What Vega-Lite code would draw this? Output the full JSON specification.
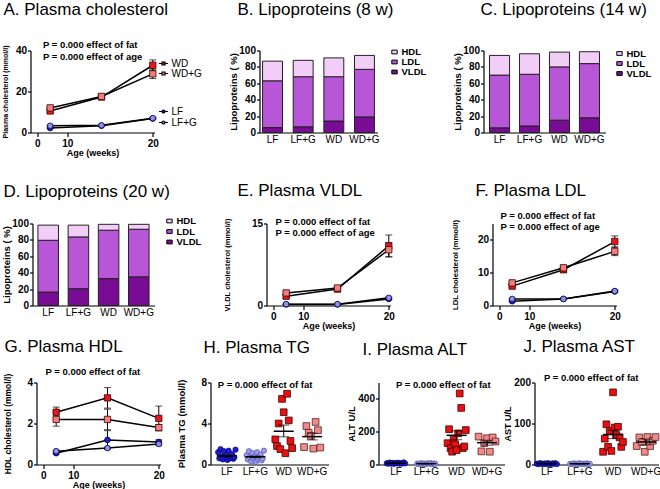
{
  "$schema": "https://vega.github.io/schema/vega-lite/v6.json",
  "background": "white",
  "padding": {"left": 0.5, "top": 0.5, "right": 0, "bottom": 0},
  "config": {
    "font": "Liberation Sans",
    "view": {"stroke": null},
    "title": {"font": "Liberation Sans", "fontSize": 17, "fontWeight": "normal", "anchor": "start", "frame": "group", "color": "black"},
    "axis": {"labelFont": "Liberation Sans", "labelFontSize": 10, "labelColor": "black", "domainColor": "black", "domainWidth": 1.2, "tickColor": "black", "tickWidth": 1.2, "grid": false, "titleFont": "Liberation Sans", "titleFontWeight": "bold", "titleColor": "black", "titleFontSize": 9},
    "axisQuantitative": {"labelFontWeight": "bold"},
    "axisY": {"tickSize": 3, "labelPadding": 1},
    "axisX": {"tickSize": 4, "labelPadding": 1.5, "titlePadding": 0},
    "axisBand": {"ticks": false, "labelPadding": 1.5, "labelAngle": 0},
    "legend": {"labelFont": "Liberation Sans", "labelColor": "black", "padding": 0, "rowPadding": 0, "titlePadding": 0}
  },
  "datasets": {
    "chol": [
      {"w": 8, "g": "WD", "v": 10.5, "lo": 9.7, "hi": 11.3},
      {"w": 14, "g": "WD", "v": 17.3, "lo": 16.5, "hi": 18.1},
      {"w": 20, "g": "WD", "v": 32.8, "lo": 30.2, "hi": 35.4},
      {"w": 8, "g": "WD+G", "v": 12.0, "lo": 11.3, "hi": 12.7},
      {"w": 14, "g": "WD+G", "v": 17.6, "lo": 16.9, "hi": 18.3},
      {"w": 20, "g": "WD+G", "v": 28.6, "lo": 26.3, "hi": 30.9},
      {"w": 8, "g": "LF", "v": 2.2, "lo": 1.9, "hi": 2.5},
      {"w": 14, "g": "LF", "v": 3.3, "lo": 3.0, "hi": 3.6},
      {"w": 20, "g": "LF", "v": 6.8, "lo": 6.4, "hi": 7.2},
      {"w": 8, "g": "LF+G", "v": 3.3, "lo": 3.0, "hi": 3.6},
      {"w": 14, "g": "LF+G", "v": 3.5, "lo": 3.2, "hi": 3.8},
      {"w": 20, "g": "LF+G", "v": 7.0, "lo": 6.6, "hi": 7.4}
    ],
    "vldl": [
      {"w": 8, "g": "WD", "v": 1.7, "lo": 1.4, "hi": 2.0},
      {"w": 14, "g": "WD", "v": 3.0, "lo": 2.7, "hi": 3.3},
      {"w": 20, "g": "WD", "v": 10.9, "lo": 8.9, "hi": 12.9},
      {"w": 8, "g": "WD+G", "v": 2.3, "lo": 2.0, "hi": 2.6},
      {"w": 14, "g": "WD+G", "v": 3.2, "lo": 2.9, "hi": 3.5},
      {"w": 20, "g": "WD+G", "v": 10.2, "lo": 8.9, "hi": 11.5},
      {"w": 8, "g": "LF", "v": 0.2, "lo": 0.15, "hi": 0.25},
      {"w": 14, "g": "LF", "v": 0.2, "lo": 0.15, "hi": 0.25},
      {"w": 20, "g": "LF", "v": 1.2, "lo": 1.05, "hi": 1.35},
      {"w": 8, "g": "LF+G", "v": 0.25, "lo": 0.2, "hi": 0.3},
      {"w": 14, "g": "LF+G", "v": 0.25, "lo": 0.2, "hi": 0.3},
      {"w": 20, "g": "LF+G", "v": 1.4, "lo": 1.25, "hi": 1.55}
    ],
    "ldl": [
      {"w": 8, "g": "WD", "v": 5.9, "lo": 5.4, "hi": 6.4},
      {"w": 14, "g": "WD", "v": 10.9, "lo": 10.1, "hi": 11.7},
      {"w": 20, "g": "WD", "v": 19.5, "lo": 17.8, "hi": 21.2},
      {"w": 8, "g": "WD+G", "v": 6.9, "lo": 6.4, "hi": 7.4},
      {"w": 14, "g": "WD+G", "v": 11.5, "lo": 11.0, "hi": 12.0},
      {"w": 20, "g": "WD+G", "v": 16.5, "lo": 15.2, "hi": 17.8},
      {"w": 8, "g": "LF", "v": 1.3, "lo": 1.1, "hi": 1.5},
      {"w": 14, "g": "LF", "v": 2.0, "lo": 1.8, "hi": 2.2},
      {"w": 20, "g": "LF", "v": 4.3, "lo": 4.0, "hi": 4.6},
      {"w": 8, "g": "LF+G", "v": 2.0, "lo": 1.8, "hi": 2.2},
      {"w": 14, "g": "LF+G", "v": 2.0, "lo": 1.8, "hi": 2.2},
      {"w": 20, "g": "LF+G", "v": 4.4, "lo": 4.1, "hi": 4.7}
    ],
    "hdl": [
      {"w": 8, "g": "WD", "v": 2.55, "lo": 2.3, "hi": 2.8},
      {"w": 14, "g": "WD", "v": 3.25, "lo": 2.75, "hi": 3.75},
      {"w": 20, "g": "WD", "v": 2.25, "lo": 1.65, "hi": 2.85},
      {"w": 8, "g": "WD+G", "v": 2.2, "lo": 1.87, "hi": 2.53},
      {"w": 14, "g": "WD+G", "v": 2.2, "lo": 1.7, "hi": 2.7},
      {"w": 20, "g": "WD+G", "v": 1.8, "lo": 1.65, "hi": 1.95},
      {"w": 8, "g": "LF", "v": 0.55, "lo": 0.5, "hi": 0.6},
      {"w": 14, "g": "LF", "v": 1.2, "lo": 0.75, "hi": 1.65},
      {"w": 20, "g": "LF", "v": 1.1, "lo": 1.0, "hi": 1.2},
      {"w": 8, "g": "LF+G", "v": 0.65, "lo": 0.6, "hi": 0.7},
      {"w": 14, "g": "LF+G", "v": 0.8, "lo": 0.75, "hi": 0.85},
      {"w": 20, "g": "LF+G", "v": 1.0, "lo": 0.92, "hi": 1.08}
    ],
    "lipo": [
      {"age": "8 w", "diet": "LF", "lp": "VLDL", "pct": 6},
      {"age": "8 w", "diet": "LF", "lp": "LDL", "pct": 57},
      {"age": "8 w", "diet": "LF", "lp": "HDL", "pct": 24},
      {"age": "8 w", "diet": "LF+G", "lp": "VLDL", "pct": 7},
      {"age": "8 w", "diet": "LF+G", "lp": "LDL", "pct": 61},
      {"age": "8 w", "diet": "LF+G", "lp": "HDL", "pct": 20},
      {"age": "8 w", "diet": "WD", "lp": "VLDL", "pct": 14},
      {"age": "8 w", "diet": "WD", "lp": "LDL", "pct": 54},
      {"age": "8 w", "diet": "WD", "lp": "HDL", "pct": 23},
      {"age": "8 w", "diet": "WD+G", "lp": "VLDL", "pct": 19},
      {"age": "8 w", "diet": "WD+G", "lp": "LDL", "pct": 58},
      {"age": "8 w", "diet": "WD+G", "lp": "HDL", "pct": 17},
      {"age": "14 w", "diet": "LF", "lp": "VLDL", "pct": 5.7},
      {"age": "14 w", "diet": "LF", "lp": "LDL", "pct": 64.3},
      {"age": "14 w", "diet": "LF", "lp": "HDL", "pct": 24},
      {"age": "14 w", "diet": "LF+G", "lp": "VLDL", "pct": 8},
      {"age": "14 w", "diet": "LF+G", "lp": "LDL", "pct": 63},
      {"age": "14 w", "diet": "LF+G", "lp": "HDL", "pct": 25},
      {"age": "14 w", "diet": "WD", "lp": "VLDL", "pct": 15},
      {"age": "14 w", "diet": "WD", "lp": "LDL", "pct": 65},
      {"age": "14 w", "diet": "WD", "lp": "HDL", "pct": 18},
      {"age": "14 w", "diet": "WD+G", "lp": "VLDL", "pct": 18},
      {"age": "14 w", "diet": "WD+G", "lp": "LDL", "pct": 66},
      {"age": "14 w", "diet": "WD+G", "lp": "HDL", "pct": 14.5},
      {"age": "20 w", "diet": "LF", "lp": "VLDL", "pct": 16.4},
      {"age": "20 w", "diet": "LF", "lp": "LDL", "pct": 63.1},
      {"age": "20 w", "diet": "LF", "lp": "HDL", "pct": 18.5},
      {"age": "20 w", "diet": "LF+G", "lp": "VLDL", "pct": 20.5},
      {"age": "20 w", "diet": "LF+G", "lp": "LDL", "pct": 63.1},
      {"age": "20 w", "diet": "LF+G", "lp": "HDL", "pct": 14.4},
      {"age": "20 w", "diet": "WD", "lp": "VLDL", "pct": 32.8},
      {"age": "20 w", "diet": "WD", "lp": "LDL", "pct": 59},
      {"age": "20 w", "diet": "WD", "lp": "HDL", "pct": 7.2},
      {"age": "20 w", "diet": "WD+G", "lp": "VLDL", "pct": 35},
      {"age": "20 w", "diet": "WD+G", "lp": "LDL", "pct": 58},
      {"age": "20 w", "diet": "WD+G", "lp": "HDL", "pct": 6}
    ],
    "tg": [
      {"g": "LF", "i": 1, "v": 1.2}, {"g": "LF", "i": 2, "v": 0.6}, {"g": "LF", "i": 3, "v": 1.5}, {"g": "LF", "i": 4, "v": 0.8},
      {"g": "LF", "i": 5, "v": 0.5}, {"g": "LF", "i": 6, "v": 1.3}, {"g": "LF", "i": 7, "v": 0.7}, {"g": "LF", "i": 8, "v": 0.9},
      {"g": "LF", "i": 9, "v": 0.45}, {"g": "LF", "i": 10, "v": 1.35}, {"g": "LF", "i": 11, "v": 0.6}, {"g": "LF", "i": 12, "v": 0.75},
      {"g": "LF", "i": 13, "v": 1.0}, {"g": "LF", "i": 14, "v": 0.55}, {"g": "LF", "i": 15, "v": 0.7}, {"g": "LF", "i": 16, "v": 1.45},
      {"g": "LF+G", "i": 1, "v": 0.9}, {"g": "LF+G", "i": 2, "v": 0.5}, {"g": "LF+G", "i": 3, "v": 1.3}, {"g": "LF+G", "i": 4, "v": 0.7},
      {"g": "LF+G", "i": 5, "v": 0.3}, {"g": "LF+G", "i": 6, "v": 1.1}, {"g": "LF+G", "i": 7, "v": 0.6}, {"g": "LF+G", "i": 8, "v": 0.8},
      {"g": "LF+G", "i": 9, "v": 0.25}, {"g": "LF+G", "i": 10, "v": 1.2}, {"g": "LF+G", "i": 11, "v": 0.5}, {"g": "LF+G", "i": 12, "v": 0.7},
      {"g": "LF+G", "i": 13, "v": 0.95}, {"g": "LF+G", "i": 14, "v": 0.4}, {"g": "LF+G", "i": 15, "v": 0.6}, {"g": "LF+G", "i": 16, "v": 1.35},
      {"g": "WD", "i": 1, "v": 2.45}, {"g": "WD", "i": 2, "v": 1.8}, {"g": "WD", "i": 3, "v": 4.0}, {"g": "WD", "i": 4, "v": 1.5},
      {"g": "WD", "i": 5, "v": 6.4}, {"g": "WD", "i": 6, "v": 5.1}, {"g": "WD", "i": 7, "v": 1.1}, {"g": "WD", "i": 8, "v": 6.9},
      {"g": "WD", "i": 9, "v": 4.3}, {"g": "WD", "i": 10, "v": 2.3}, {"g": "WD", "i": 11, "v": 1.6},
      {"g": "WD+G", "i": 1, "v": 1.7}, {"g": "WD+G", "i": 2, "v": 3.75}, {"g": "WD+G", "i": 3, "v": 3.1}, {"g": "WD+G", "i": 4, "v": 2.8},
      {"g": "WD+G", "i": 5, "v": 1.55}, {"g": "WD+G", "i": 6, "v": 4.15}, {"g": "WD+G", "i": 7, "v": 3.35}, {"g": "WD+G", "i": 8, "v": 1.65}
    ],
    "tgs": [
      {"g": "LF", "m": 0.85, "lo": 0.78, "hi": 0.92},
      {"g": "LF+G", "m": 0.75, "lo": 0.68, "hi": 0.82},
      {"g": "WD", "m": 3.25, "lo": 2.7, "hi": 3.85},
      {"g": "WD+G", "m": 2.72, "lo": 2.4, "hi": 3.05}
    ],
    "alt": [
      {"g": "LF", "i": 1, "v": 8}, {"g": "LF", "i": 2, "v": 5}, {"g": "LF", "i": 3, "v": 12}, {"g": "LF", "i": 4, "v": 6},
      {"g": "LF", "i": 5, "v": 10}, {"g": "LF", "i": 6, "v": 4}, {"g": "LF", "i": 7, "v": 9}, {"g": "LF", "i": 8, "v": 7},
      {"g": "LF", "i": 9, "v": 11}, {"g": "LF", "i": 10, "v": 5}, {"g": "LF", "i": 11, "v": 8}, {"g": "LF", "i": 12, "v": 6},
      {"g": "LF", "i": 13, "v": 13}, {"g": "LF", "i": 14, "v": 7},
      {"g": "LF+G", "i": 1, "v": 5}, {"g": "LF+G", "i": 2, "v": 3}, {"g": "LF+G", "i": 3, "v": 8}, {"g": "LF+G", "i": 4, "v": 4},
      {"g": "LF+G", "i": 5, "v": 6}, {"g": "LF+G", "i": 6, "v": 2}, {"g": "LF+G", "i": 7, "v": 7}, {"g": "LF+G", "i": 8, "v": 5},
      {"g": "LF+G", "i": 9, "v": 9}, {"g": "LF+G", "i": 10, "v": 3}, {"g": "LF+G", "i": 11, "v": 6}, {"g": "LF+G", "i": 12, "v": 4},
      {"g": "WD", "i": 1, "v": 130}, {"g": "WD", "i": 2, "v": 215}, {"g": "WD", "i": 3, "v": 99}, {"g": "WD", "i": 4, "v": 78},
      {"g": "WD", "i": 5, "v": 155}, {"g": "WD", "i": 6, "v": 123}, {"g": "WD", "i": 7, "v": 88}, {"g": "WD", "i": 8, "v": 190},
      {"g": "WD", "i": 9, "v": 433}, {"g": "WD", "i": 10, "v": 345}, {"g": "WD", "i": 11, "v": 100}, {"g": "WD", "i": 12, "v": 110},
      {"g": "WD", "i": 13, "v": 210},
      {"g": "WD+G", "i": 1, "v": 170}, {"g": "WD+G", "i": 2, "v": 80}, {"g": "WD+G", "i": 3, "v": 130}, {"g": "WD+G", "i": 4, "v": 160},
      {"g": "WD+G", "i": 5, "v": 78}, {"g": "WD+G", "i": 6, "v": 165}, {"g": "WD+G", "i": 7, "v": 140}
    ],
    "alts": [
      {"g": "LF", "m": 8, "lo": 7, "hi": 9},
      {"g": "LF+G", "m": 5, "lo": 4.3, "hi": 5.7},
      {"g": "WD", "m": 178, "lo": 151, "hi": 205},
      {"g": "WD+G", "m": 133, "lo": 118, "hi": 148}
    ],
    "ast": [
      {"g": "LF", "i": 1, "v": 2}, {"g": "LF", "i": 2, "v": 1}, {"g": "LF", "i": 3, "v": 3}, {"g": "LF", "i": 4, "v": 2},
      {"g": "LF", "i": 5, "v": 1.5}, {"g": "LF", "i": 6, "v": 2.5}, {"g": "LF", "i": 7, "v": 1}, {"g": "LF", "i": 8, "v": 3},
      {"g": "LF", "i": 9, "v": 2}, {"g": "LF", "i": 10, "v": 1.5}, {"g": "LF", "i": 11, "v": 2.5}, {"g": "LF", "i": 12, "v": 2},
      {"g": "LF", "i": 13, "v": 3}, {"g": "LF", "i": 14, "v": 1},
      {"g": "LF+G", "i": 1, "v": 1.5}, {"g": "LF+G", "i": 2, "v": 1}, {"g": "LF+G", "i": 3, "v": 2.5}, {"g": "LF+G", "i": 4, "v": 2},
      {"g": "LF+G", "i": 5, "v": 1}, {"g": "LF+G", "i": 6, "v": 3}, {"g": "LF+G", "i": 7, "v": 1.5}, {"g": "LF+G", "i": 8, "v": 2},
      {"g": "LF+G", "i": 9, "v": 1}, {"g": "LF+G", "i": 10, "v": 2.5}, {"g": "LF+G", "i": 11, "v": 2}, {"g": "LF+G", "i": 12, "v": 1.5},
      {"g": "WD", "i": 1, "v": 31}, {"g": "WD", "i": 2, "v": 63}, {"g": "WD", "i": 3, "v": 98}, {"g": "WD", "i": 4, "v": 43},
      {"g": "WD", "i": 5, "v": 82}, {"g": "WD", "i": 6, "v": 33}, {"g": "WD", "i": 7, "v": 176}, {"g": "WD", "i": 8, "v": 90},
      {"g": "WD", "i": 9, "v": 72}, {"g": "WD", "i": 10, "v": 92}, {"g": "WD", "i": 11, "v": 66}, {"g": "WD", "i": 12, "v": 43},
      {"g": "WD", "i": 13, "v": 55},
      {"g": "WD+G", "i": 1, "v": 45}, {"g": "WD+G", "i": 2, "v": 66}, {"g": "WD+G", "i": 3, "v": 55}, {"g": "WD+G", "i": 4, "v": 31},
      {"g": "WD+G", "i": 5, "v": 67}, {"g": "WD+G", "i": 6, "v": 45}, {"g": "WD+G", "i": 7, "v": 58}, {"g": "WD+G", "i": 8, "v": 67}
    ],
    "asts": [
      {"g": "LF", "m": 2, "lo": 1.7, "hi": 2.3},
      {"g": "LF+G", "m": 1.8, "lo": 1.5, "hi": 2.1},
      {"g": "WD", "m": 73, "lo": 63, "hi": 84},
      {"g": "WD+G", "m": 55, "lo": 48, "hi": 62}
    ],
    "notes": [
      {"panel": "A", "note": "P = 0.000 effect of fat\nP = 0.000 effect of age"},
      {"panel": "E", "note": "P = 0.000 effect of fat\nP = 0.000 effect of age"},
      {"panel": "F", "note": "P = 0.000 effect of fat\nP = 0.000 effect of age"},
      {"panel": "G", "note": "P = 0.000 effect of fat"},
      {"panel": "H", "note": "P = 0.000 effect of fat"},
      {"panel": "I", "note": "P = 0.000 effect of fat"},
      {"panel": "J", "note": "P = 0.000 effect of fat"}
    ]
  },
  "spacing": 7,
  "resolve": {"scale": {"color": "independent", "fill": "independent", "xOffset": "independent"}, "legend": {"color": "independent", "fill": "independent"}},
  "vconcat": [
    {
      "spacing": 24,
      "resolve": {"scale": {"color": "independent", "fill": "independent", "xOffset": "independent"}, "legend": {"color": "independent", "fill": "independent"}},
      "vconcat": [
        {
          "spacing": 0,
          "bounds": "flush",
          "resolve": {"scale": {"color": "independent", "fill": "independent", "xOffset": "independent"}, "legend": {"color": "independent", "fill": "independent"}},
          "hconcat": [
            {
              "width": 124, "height": 82,
              "title": {"text": "A. Plasma cholesterol", "dx": -27, "offset": 21.5},
              "layer": [
                {"data": {"name": "chol"}, "mark": {"type": "line", "color": "black", "strokeWidth": 1.5}, "encoding": {"x": {"field": "w", "type": "quantitative", "scale": {"domain": [5.7, 20.2], "nice": false, "zero": false}, "axis": {"values": [6.5, 7.4, 10, 15, 20], "labelExpr": "datum.value < 7 ? '0' : (datum.value < 8 ? '5' : datum.label)", "labelOverlap": false, "labelFlush": false, "title": "Age (weeks)"}}, "y": {"field": "v", "type": "quantitative", "scale": {"domain": [0, 40], "nice": false}, "axis": {"values": [0, 10, 20, 30, 40], "title": "Plasma cholesterol (mmol/l)", "titleFontSize": 7, "titlePadding": 6.4}}, "detail": {"field": "g"}}},
                {"data": {"name": "chol"}, "mark": {"type": "errorbar", "color": "black", "ticks": {"size": 7}}, "encoding": {"x": {"field": "w", "type": "quantitative", "title": "Age (weeks)"}, "y": {"field": "lo", "type": "quantitative", "title": "Plasma cholesterol (mmol/l)"}, "y2": {"field": "hi"}, "detail": {"field": "g"}}},
                {"data": {"name": "chol"}, "transform": [{"filter": {"field": "g", "oneOf": ["WD", "WD+G"]}}], "mark": {"type": "point", "shape": "square", "filled": true, "size": 40, "opacity": 1, "stroke": "#3a0000", "strokeWidth": 0.8}, "encoding": {"x": {"field": "w", "type": "quantitative", "title": "Age (weeks)"}, "y": {"field": "v", "type": "quantitative", "title": "Plasma cholesterol (mmol/l)"}, "fill": {"field": "g", "type": "nominal", "scale": {"domain": ["WD", "WD+G"], "range": ["#e8161b", "#f27f7f"]}, "legend": {"title": null, "orient": "none", "legendX": 128, "legendY": 8, "symbolType": "M-1.5,0H-0.5M0.5,0H1.5M-0.5,-0.5H0.5V0.5H-0.5Z", "symbolSize": 36, "symbolStrokeColor": "black", "symbolStrokeWidth": 1.2, "labelFontSize": 10, "labelOffset": 3, "rowPadding": 0, "encode": {"symbols": {"update": {"stroke": {"value": "black"}, "strokeWidth": {"value": 1.2}}}}}}}},
                {"data": {"name": "chol"}, "transform": [{"filter": {"field": "g", "oneOf": ["LF", "LF+G"]}}], "mark": {"type": "point", "shape": "circle", "filled": true, "size": 32, "opacity": 1, "stroke": "#000044", "strokeWidth": 0.8}, "encoding": {"x": {"field": "w", "type": "quantitative", "title": "Age (weeks)"}, "y": {"field": "v", "type": "quantitative", "title": "Plasma cholesterol (mmol/l)"}, "color": {"field": "g", "type": "nominal", "scale": {"domain": ["LF", "LF+G"], "range": ["#2020cc", "#9090e8"]}, "legend": {"title": null, "orient": "none", "legendX": 128, "legendY": 56, "symbolType": "M-1.5,0H-0.5A0.5,0.5 0 1,0 0.5,0A0.5,0.5 0 1,0 -0.5,0M0.5,0H1.5", "symbolSize": 36, "symbolStrokeColor": "black", "symbolStrokeWidth": 1.2, "labelFontSize": 10, "labelOffset": 3, "rowPadding": 1, "encode": {"symbols": {"update": {"stroke": {"value": "black"}, "strokeWidth": {"value": 1.2}}}}}}}},
                {"data": {"name": "notes"}, "transform": [{"filter": "datum.panel == 'A'"}], "mark": {"type": "text", "align": "left", "baseline": "top", "fontSize": 9.5, "fontWeight": "bold", "lineHeight": 11.3, "lineBreak": "\n", "color": "black"}, "encoding": {"x": {"datum": 7.15}, "y": {"datum": 45}, "text": {"field": "note"}}}
              ]
            },
            {"width": 105, "height": 82, "data": {"values": []}, "mark": "point"},
            {
              "width": 118, "height": 82,
              "title": {"text": "B. Lipoproteins (8 w)", "dx": -22, "offset": 26.5},
              "data": {"name": "lipo"},
              "transform": [{"filter": "datum.age == '8 w'"}],
              "mark": {"type": "bar", "stroke": "#222222", "strokeWidth": 1},
              "encoding": {
                "x": {"field": "diet", "type": "nominal", "scale": {"domain": ["LF", "LF+G", "WD", "WD+G"], "paddingInner": 0.35, "paddingOuter": 0.1}, "axis": {"title": null}},
                "y": {"field": "pct", "type": "quantitative", "stack": "zero", "scale": {"domain": [0, 100], "nice": false}, "axis": {"values": [0, 20, 40, 60, 80, 100], "title": "Lipoproteins ( %)", "titleFontSize": 9.5, "titlePadding": 0.5}},
                "color": {"field": "lp", "type": "nominal", "scale": {"domain": ["HDL", "LDL", "VLDL"], "range": ["#f2cdf7", "#b757d8", "#780c94"]}, "legend": {"title": null, "orient": "none", "legendX": 130, "legendY": -3.5, "symbolType": "M-0.6,-0.42H0.6V0.42H-0.6Z", "symbolSize": 81, "symbolStrokeColor": "black", "symbolStrokeWidth": 1, "labelFontSize": 9.5, "labelFontWeight": "bold", "labelOffset": 2, "rowPadding": 0, "encode": {"symbols": {"update": {"stroke": {"value": "black"}, "strokeWidth": {"value": 1}}}}}},
                "order": {"field": "lp", "sort": "descending"}
              }
            },
            {"width": 106, "height": 82, "data": {"values": []}, "mark": "point"},
            {
              "width": 122, "height": 82,
              "title": {"text": "C. Lipoproteins (14 w)", "dx": -3, "offset": 26.5},
              "data": {"name": "lipo"},
              "transform": [{"filter": "datum.age == '14 w'"}],
              "mark": {"type": "bar", "stroke": "#222222", "strokeWidth": 1},
              "encoding": {
                "x": {"field": "diet", "type": "nominal", "scale": {"domain": ["LF", "LF+G", "WD", "WD+G"], "paddingInner": 0.33, "paddingOuter": 0.2}, "axis": {"title": null}},
                "y": {"field": "pct", "type": "quantitative", "stack": "zero", "scale": {"domain": [0, 100], "nice": false}, "axis": {"values": [0, 20, 40, 60, 80, 100], "title": "Lipoproteins ( %)", "titleFontSize": 9.5, "titlePadding": 0.5}},
                "color": {"field": "lp", "type": "nominal", "scale": {"domain": ["HDL", "LDL", "VLDL"], "range": ["#f2cdf7", "#b757d8", "#780c94"]}, "legend": {"title": null, "orient": "none", "legendX": 131, "legendY": -2, "symbolType": "M-0.6,-0.42H0.6V0.42H-0.6Z", "symbolSize": 81, "symbolStrokeColor": "black", "symbolStrokeWidth": 1, "labelFontSize": 9.5, "labelFontWeight": "bold", "labelOffset": 2, "rowPadding": 0, "encode": {"symbols": {"update": {"stroke": {"value": "black"}, "strokeWidth": {"value": 1}}}}}},
                "order": {"field": "lp", "sort": "descending"}
              }
            }
          ]
        },
        {
          "spacing": 0,
          "bounds": "flush",
          "resolve": {"scale": {"color": "independent", "fill": "independent", "xOffset": "independent"}, "legend": {"color": "independent", "fill": "independent"}},
          "hconcat": [
            {"width": 2, "height": 82, "data": {"values": []}, "mark": "point"},
            {
              "width": 122, "height": 82,
              "title": {"text": "D. Lipoproteins (20 w)", "dx": -29, "offset": 15},
              "data": {"name": "lipo"},
              "transform": [{"filter": "datum.age == '20 w'"}],
              "mark": {"type": "bar", "stroke": "#222222", "strokeWidth": 1},
              "encoding": {
                "x": {"field": "diet", "type": "nominal", "scale": {"domain": ["LF", "LF+G", "WD", "WD+G"], "paddingInner": 0.32, "paddingOuter": 0.18}, "axis": {"title": null}},
                "y": {"field": "pct", "type": "quantitative", "stack": "zero", "scale": {"domain": [0, 100], "nice": false}, "axis": {"values": [0, 20, 40, 60, 80, 100], "title": "Lipoproteins ( %)", "titleFontSize": 9.5, "titlePadding": 0.5}},
                "color": {"field": "lp", "type": "nominal", "scale": {"domain": ["HDL", "LDL", "VLDL"], "range": ["#f2cdf7", "#b757d8", "#780c94"]}, "legend": {"title": null, "orient": "none", "legendX": 132, "legendY": -7.5, "symbolType": "M-0.6,-0.42H0.6V0.42H-0.6Z", "symbolSize": 81, "symbolStrokeColor": "black", "symbolStrokeWidth": 1, "labelFontSize": 9.5, "labelFontWeight": "bold", "labelOffset": 2, "rowPadding": 0.5, "encode": {"symbols": {"update": {"stroke": {"value": "black"}, "strokeWidth": {"value": 1}}}}}},
                "order": {"field": "lp", "sort": "descending"}
              }
            },
            {"width": 112, "height": 82, "data": {"values": []}, "mark": "point"},
            {
              "width": 124, "height": 82,
              "title": {"text": "E. Plasma VLDL", "dx": -29, "offset": 17},
              "layer": [
                {"data": {"name": "vldl"}, "mark": {"type": "line", "color": "black", "strokeWidth": 1.5}, "encoding": {"x": {"field": "w", "type": "quantitative", "scale": {"domain": [5.7, 20.2], "nice": false, "zero": false}, "axis": {"values": [6.5, 7.4, 10, 15, 20], "labelExpr": "datum.value < 7 ? '0' : (datum.value < 8 ? '5' : datum.label)", "labelOverlap": false, "labelFlush": false, "title": "Age (weeks)"}}, "y": {"field": "v", "type": "quantitative", "scale": {"domain": [0, 15], "nice": false}, "axis": {"values": [0, 5, 10, 15], "title": "VLDL cholesterol (mmol/l)", "titleFontSize": 7.5, "titlePadding": 20}}, "detail": {"field": "g"}}},
                {"data": {"name": "vldl"}, "mark": {"type": "errorbar", "color": "black", "ticks": {"size": 7}}, "encoding": {"x": {"field": "w", "type": "quantitative", "title": "Age (weeks)"}, "y": {"field": "lo", "type": "quantitative", "title": "VLDL cholesterol (mmol/l)"}, "y2": {"field": "hi"}, "detail": {"field": "g"}}},
                {"data": {"name": "vldl"}, "transform": [{"filter": {"field": "g", "oneOf": ["WD", "WD+G"]}}], "mark": {"type": "point", "shape": "square", "filled": true, "size": 40, "opacity": 1, "stroke": "#3a0000", "strokeWidth": 0.8}, "encoding": {"x": {"field": "w", "type": "quantitative", "title": "Age (weeks)"}, "y": {"field": "v", "type": "quantitative", "title": "VLDL cholesterol (mmol/l)"}, "fill": {"field": "g", "type": "nominal", "scale": {"domain": ["WD", "WD+G"], "range": ["#e8161b", "#f27f7f"]}, "legend": null}}},
                {"data": {"name": "vldl"}, "transform": [{"filter": {"field": "g", "oneOf": ["LF", "LF+G"]}}], "mark": {"type": "point", "shape": "circle", "filled": true, "size": 32, "opacity": 1, "stroke": "#000044", "strokeWidth": 0.8}, "encoding": {"x": {"field": "w", "type": "quantitative", "title": "Age (weeks)"}, "y": {"field": "v", "type": "quantitative", "title": "VLDL cholesterol (mmol/l)"}, "color": {"field": "g", "type": "nominal", "scale": {"domain": ["LF", "LF+G"], "range": ["#2020cc", "#9090e8"]}, "legend": null}}},
                {"data": {"name": "notes"}, "transform": [{"filter": "datum.panel == 'E'"}], "mark": {"type": "text", "align": "left", "baseline": "top", "fontSize": 9.5, "fontWeight": "bold", "lineHeight": 11.3, "lineBreak": "\n", "color": "black"}, "encoding": {"x": {"datum": 6.75}, "y": {"datum": 16.26}, "text": {"field": "note"}}}
              ]
            },
            {"width": 102, "height": 82, "data": {"values": []}, "mark": "point"},
            {
              "width": 124, "height": 82,
              "title": {"text": "F. Plasma LDL", "dx": -17, "offset": 11},
              "layer": [
                {"data": {"name": "ldl"}, "mark": {"type": "line", "color": "black", "strokeWidth": 1.5}, "encoding": {"x": {"field": "w", "type": "quantitative", "scale": {"domain": [5.7, 20.2], "nice": false, "zero": false}, "axis": {"values": [6.5, 7.4, 10, 15, 20], "labelExpr": "datum.value < 7 ? '0' : (datum.value < 8 ? '5' : datum.label)", "labelOverlap": false, "labelFlush": false, "title": "Age (weeks)"}}, "y": {"field": "v", "type": "quantitative", "scale": {"domain": [0, 25], "nice": false}, "axis": {"values": [0, 5, 10, 15, 20, 25], "title": "LDL cholesterol (mmol/l)", "titleFontSize": 7.7, "titlePadding": 18}}, "detail": {"field": "g"}}},
                {"data": {"name": "ldl"}, "mark": {"type": "errorbar", "color": "black", "ticks": {"size": 7}}, "encoding": {"x": {"field": "w", "type": "quantitative", "title": "Age (weeks)"}, "y": {"field": "lo", "type": "quantitative", "title": "LDL cholesterol (mmol/l)"}, "y2": {"field": "hi"}, "detail": {"field": "g"}}},
                {"data": {"name": "ldl"}, "transform": [{"filter": {"field": "g", "oneOf": ["WD", "WD+G"]}}], "mark": {"type": "point", "shape": "square", "filled": true, "size": 40, "opacity": 1, "stroke": "#3a0000", "strokeWidth": 0.8}, "encoding": {"x": {"field": "w", "type": "quantitative", "title": "Age (weeks)"}, "y": {"field": "v", "type": "quantitative", "title": "LDL cholesterol (mmol/l)"}, "fill": {"field": "g", "type": "nominal", "scale": {"domain": ["WD", "WD+G"], "range": ["#e8161b", "#f27f7f"]}, "legend": null}}},
                {"data": {"name": "ldl"}, "transform": [{"filter": {"field": "g", "oneOf": ["LF", "LF+G"]}}], "mark": {"type": "point", "shape": "circle", "filled": true, "size": 32, "opacity": 1, "stroke": "#000044", "strokeWidth": 0.8}, "encoding": {"x": {"field": "w", "type": "quantitative", "title": "Age (weeks)"}, "y": {"field": "v", "type": "quantitative", "title": "LDL cholesterol (mmol/l)"}, "color": {"field": "g", "type": "nominal", "scale": {"domain": ["LF", "LF+G"], "range": ["#2020cc", "#9090e8"]}, "legend": null}}},
                {"data": {"name": "notes"}, "transform": [{"filter": "datum.panel == 'F'"}], "mark": {"type": "text", "align": "left", "baseline": "top", "fontSize": 9.5, "fontWeight": "bold", "lineHeight": 11.3, "lineBreak": "\n", "color": "black"}, "encoding": {"x": {"datum": 6.63}, "y": {"datum": 28.8}, "text": {"field": "note"}}}
              ]
            }
          ]
        }
      ]
    },
    {
      "spacing": 0,
      "bounds": "flush",
      "resolve": {"scale": {"color": "independent", "fill": "independent", "xOffset": "independent"}, "legend": {"color": "independent", "fill": "independent"}},
      "hconcat": [
        {"width": 6, "height": 82, "data": {"values": []}, "mark": "point"},
        {
          "width": 124, "height": 82,
          "title": {"text": "G. Plasma HDL", "dx": -32, "offset": 11},
          "layer": [
            {"data": {"name": "hdl"}, "mark": {"type": "line", "color": "black", "strokeWidth": 1.5}, "encoding": {"x": {"field": "w", "type": "quantitative", "scale": {"domain": [5.7, 20.2], "nice": false, "zero": false}, "axis": {"values": [6.5, 7.4, 10, 15, 20], "labelExpr": "datum.value < 7 ? '0' : (datum.value < 8 ? '5' : datum.label)", "labelOverlap": false, "labelFlush": false, "title": "Age (weeks)"}}, "y": {"field": "v", "type": "quantitative", "scale": {"domain": [0, 4], "nice": false}, "axis": {"values": [0, 1, 2, 3, 4], "title": "HDL cholesterol (mmol/l)", "titleFontSize": 8.5, "titlePadding": 14.8}}, "detail": {"field": "g"}}},
            {"data": {"name": "hdl"}, "mark": {"type": "errorbar", "color": "black", "ticks": {"size": 7}}, "encoding": {"x": {"field": "w", "type": "quantitative", "title": "Age (weeks)"}, "y": {"field": "lo", "type": "quantitative", "title": "HDL cholesterol (mmol/l)"}, "y2": {"field": "hi"}, "detail": {"field": "g"}}},
            {"data": {"name": "hdl"}, "transform": [{"filter": {"field": "g", "oneOf": ["WD", "WD+G"]}}], "mark": {"type": "point", "shape": "square", "filled": true, "size": 40, "opacity": 1, "stroke": "#3a0000", "strokeWidth": 0.8}, "encoding": {"x": {"field": "w", "type": "quantitative", "title": "Age (weeks)"}, "y": {"field": "v", "type": "quantitative", "title": "HDL cholesterol (mmol/l)"}, "fill": {"field": "g", "type": "nominal", "scale": {"domain": ["WD", "WD+G"], "range": ["#e8161b", "#f27f7f"]}, "legend": null}}},
            {"data": {"name": "hdl"}, "transform": [{"filter": {"field": "g", "oneOf": ["LF", "LF+G"]}}], "mark": {"type": "point", "shape": "circle", "filled": true, "size": 32, "opacity": 1, "stroke": "#000044", "strokeWidth": 0.8}, "encoding": {"x": {"field": "w", "type": "quantitative", "title": "Age (weeks)"}, "y": {"field": "v", "type": "quantitative", "title": "HDL cholesterol (mmol/l)"}, "color": {"field": "g", "type": "nominal", "scale": {"domain": ["LF", "LF+G"], "range": ["#2020cc", "#9090e8"]}, "legend": null}}},
            {"data": {"name": "notes"}, "transform": [{"filter": "datum.panel == 'G'"}], "mark": {"type": "text", "align": "left", "baseline": "top", "fontSize": 9.5, "fontWeight": "bold", "color": "black"}, "encoding": {"x": {"datum": 6.75}, "y": {"datum": 4.74}, "text": {"field": "note"}}}
          ]
        },
        {"width": 50, "height": 82, "data": {"values": []}, "mark": "point"},
        {
          "width": 118, "height": 82,
          "title": {"text": "H. Plasma TG", "dx": -7, "offset": 21},
          "encoding": {"x": {"field": "g", "type": "nominal", "scale": {"type": "band", "domain": ["LF", "LF+G", "WD", "WD+G"], "paddingInner": 0.35, "paddingOuter": 0.25}, "axis": {"title": null}}},
          "layer": [
            {"data": {"name": "tg"}, "transform": [{"filter": "datum.g == 'LF'"}], "mark": {"type": "point", "shape": "circle", "filled": true, "size": 28, "opacity": 1, "fill": "#1f1fd0", "stroke": "#00006e", "strokeWidth": 0.7}, "encoding": {"y": {"field": "v", "type": "quantitative", "scale": {"domain": [0, 8], "nice": false}, "axis": {"values": [0, 2, 4, 6, 8], "title": "Plasma TG (mmol/l)", "titleFontSize": 9.5, "titlePadding": 14}}, "xOffset": {"field": "i", "type": "ordinal"}}},
            {"data": {"name": "tg"}, "transform": [{"filter": "datum.g == 'LF+G'"}], "mark": {"type": "point", "shape": "circle", "filled": true, "size": 28, "opacity": 1, "fill": "#9a9af0", "stroke": "#5050a8", "strokeWidth": 0.7}, "encoding": {"y": {"field": "v", "type": "quantitative", "title": "Plasma TG (mmol/l)"}, "xOffset": {"field": "i", "type": "ordinal"}}},
            {"data": {"name": "tg"}, "transform": [{"filter": "datum.g == 'WD'"}], "mark": {"type": "point", "shape": "square", "filled": true, "size": 45, "opacity": 1, "fill": "#e81010", "stroke": "#440000", "strokeWidth": 0.8}, "encoding": {"y": {"field": "v", "type": "quantitative", "title": "Plasma TG (mmol/l)"}, "xOffset": {"field": "i", "type": "ordinal"}}},
            {"data": {"name": "tg"}, "transform": [{"filter": "datum.g == 'WD+G'"}], "mark": {"type": "point", "shape": "square", "filled": true, "size": 45, "opacity": 1, "fill": "#f08a8a", "stroke": "#5a2020", "strokeWidth": 0.8}, "encoding": {"y": {"field": "v", "type": "quantitative", "title": "Plasma TG (mmol/l)"}, "xOffset": {"field": "i", "type": "ordinal"}}},
            {"data": {"name": "tgs"}, "mark": {"type": "tick", "color": "black", "size": 20, "thickness": 1.5, "opacity": 1}, "encoding": {"y": {"field": "m", "type": "quantitative", "title": "Plasma TG (mmol/l)"}}},
            {"data": {"name": "tgs"}, "mark": {"type": "errorbar", "color": "black", "ticks": {"size": 11}}, "encoding": {"y": {"field": "lo", "type": "quantitative", "title": "Plasma TG (mmol/l)"}, "y2": {"field": "hi"}}},
            {"data": {"name": "notes"}, "transform": [{"filter": "datum.panel == 'H'"}], "mark": {"type": "text", "align": "left", "baseline": "top", "fontSize": 9.5, "fontWeight": "bold", "color": "black", "dx": -9}, "encoding": {"x": {"datum": "LF"}, "y": {"datum": 8.2, "type": "quantitative"}, "text": {"field": "note"}}}
          ],
          "resolve": {"scale": {"xOffset": "independent"}}
        },
        {"width": 50, "height": 82, "data": {"values": []}, "mark": "point"},
        {
          "width": 126, "height": 82,
          "title": {"text": "I. Plasma ALT", "dx": -16, "offset": 21},
          "encoding": {"x": {"field": "g", "type": "nominal", "scale": {"type": "band", "domain": ["LF", "LF+G", "WD", "WD+G"], "paddingInner": 0.35, "paddingOuter": 0.25}, "axis": {"title": null}}},
          "layer": [
            {"data": {"name": "alt"}, "transform": [{"filter": "datum.g == 'LF'"}], "mark": {"type": "point", "shape": "circle", "filled": true, "size": 28, "opacity": 1, "fill": "#1f1fd0", "stroke": "#00006e", "strokeWidth": 0.7}, "encoding": {"y": {"field": "v", "type": "quantitative", "scale": {"domain": [0, 500], "nice": false}, "axis": {"values": [0, 100, 200, 300, 400, 500], "title": "ALT U/L", "titleFontSize": 9.5, "titlePadding": 1}}, "xOffset": {"field": "i", "type": "ordinal"}}},
            {"data": {"name": "alt"}, "transform": [{"filter": "datum.g == 'LF+G'"}], "mark": {"type": "point", "shape": "circle", "filled": true, "size": 28, "opacity": 1, "fill": "#9a9af0", "stroke": "#5050a8", "strokeWidth": 0.7}, "encoding": {"y": {"field": "v", "type": "quantitative", "title": "ALT U/L"}, "xOffset": {"field": "i", "type": "ordinal"}}},
            {"data": {"name": "alt"}, "transform": [{"filter": "datum.g == 'WD'"}], "mark": {"type": "point", "shape": "square", "filled": true, "size": 45, "opacity": 1, "fill": "#e81010", "stroke": "#440000", "strokeWidth": 0.8}, "encoding": {"y": {"field": "v", "type": "quantitative", "title": "ALT U/L"}, "xOffset": {"field": "i", "type": "ordinal"}}},
            {"data": {"name": "alt"}, "transform": [{"filter": "datum.g == 'WD+G'"}], "mark": {"type": "point", "shape": "square", "filled": true, "size": 45, "opacity": 1, "fill": "#f08a8a", "stroke": "#5a2020", "strokeWidth": 0.8}, "encoding": {"y": {"field": "v", "type": "quantitative", "title": "ALT U/L"}, "xOffset": {"field": "i", "type": "ordinal"}}},
            {"data": {"name": "alts"}, "mark": {"type": "tick", "color": "black", "size": 20, "thickness": 1.5, "opacity": 1}, "encoding": {"y": {"field": "m", "type": "quantitative", "title": "ALT U/L"}}},
            {"data": {"name": "alts"}, "mark": {"type": "errorbar", "color": "black", "ticks": {"size": 11}}, "encoding": {"y": {"field": "lo", "type": "quantitative", "title": "ALT U/L"}, "y2": {"field": "hi"}}},
            {"data": {"name": "notes"}, "transform": [{"filter": "datum.panel == 'I'"}], "mark": {"type": "text", "align": "left", "baseline": "top", "fontSize": 9.5, "fontWeight": "bold", "color": "black", "dx": 0}, "encoding": {"x": {"datum": "LF"}, "y": {"datum": 513, "type": "quantitative"}, "text": {"field": "note"}}}
          ],
          "resolve": {"scale": {"xOffset": "independent"}}
        },
        {"width": 30, "height": 82, "data": {"values": []}, "mark": "point"},
        {
          "width": 124, "height": 82,
          "title": {"text": "J. Plasma AST", "dx": -11, "offset": 17},
          "encoding": {"x": {"field": "g", "type": "nominal", "scale": {"type": "band", "domain": ["LF", "LF+G", "WD", "WD+G"], "paddingInner": 0.35, "paddingOuter": 0.05}, "axis": {"title": null}}},
          "layer": [
            {"data": {"name": "ast"}, "transform": [{"filter": "datum.g == 'LF'"}], "mark": {"type": "point", "shape": "circle", "filled": true, "size": 28, "opacity": 1, "fill": "#1f1fd0", "stroke": "#00006e", "strokeWidth": 0.7}, "encoding": {"y": {"field": "v", "type": "quantitative", "scale": {"domain": [0, 200], "nice": false}, "axis": {"values": [0, 50, 100, 150, 200], "title": "AST U/L", "titleFontSize": 9, "titlePadding": 1}}, "xOffset": {"field": "i", "type": "ordinal"}}},
            {"data": {"name": "ast"}, "transform": [{"filter": "datum.g == 'LF+G'"}], "mark": {"type": "point", "shape": "circle", "filled": true, "size": 28, "opacity": 1, "fill": "#9a9af0", "stroke": "#5050a8", "strokeWidth": 0.7}, "encoding": {"y": {"field": "v", "type": "quantitative", "title": "AST U/L"}, "xOffset": {"field": "i", "type": "ordinal"}}},
            {"data": {"name": "ast"}, "transform": [{"filter": "datum.g == 'WD'"}], "mark": {"type": "point", "shape": "square", "filled": true, "size": 45, "opacity": 1, "fill": "#e81010", "stroke": "#440000", "strokeWidth": 0.8}, "encoding": {"y": {"field": "v", "type": "quantitative", "title": "AST U/L"}, "xOffset": {"field": "i", "type": "ordinal"}}},
            {"data": {"name": "ast"}, "transform": [{"filter": "datum.g == 'WD+G'"}], "mark": {"type": "point", "shape": "square", "filled": true, "size": 45, "opacity": 1, "fill": "#f08a8a", "stroke": "#5a2020", "strokeWidth": 0.8}, "encoding": {"y": {"field": "v", "type": "quantitative", "title": "AST U/L"}, "xOffset": {"field": "i", "type": "ordinal"}}},
            {"data": {"name": "asts"}, "mark": {"type": "tick", "color": "black", "size": 20, "thickness": 1.5, "opacity": 1}, "encoding": {"y": {"field": "m", "type": "quantitative", "title": "AST U/L"}}},
            {"data": {"name": "asts"}, "mark": {"type": "errorbar", "color": "black", "ticks": {"size": 11}}, "encoding": {"y": {"field": "lo", "type": "quantitative", "title": "AST U/L"}, "y2": {"field": "hi"}}},
            {"data": {"name": "notes"}, "transform": [{"filter": "datum.panel == 'J'"}], "mark": {"type": "text", "align": "left", "baseline": "top", "fontSize": 9.5, "fontWeight": "bold", "color": "black", "dx": -3}, "encoding": {"x": {"datum": "LF"}, "y": {"datum": 222, "type": "quantitative"}, "text": {"field": "note"}}}
          ],
          "resolve": {"scale": {"xOffset": "independent"}}
        }
      ]
    }
  ]
}
